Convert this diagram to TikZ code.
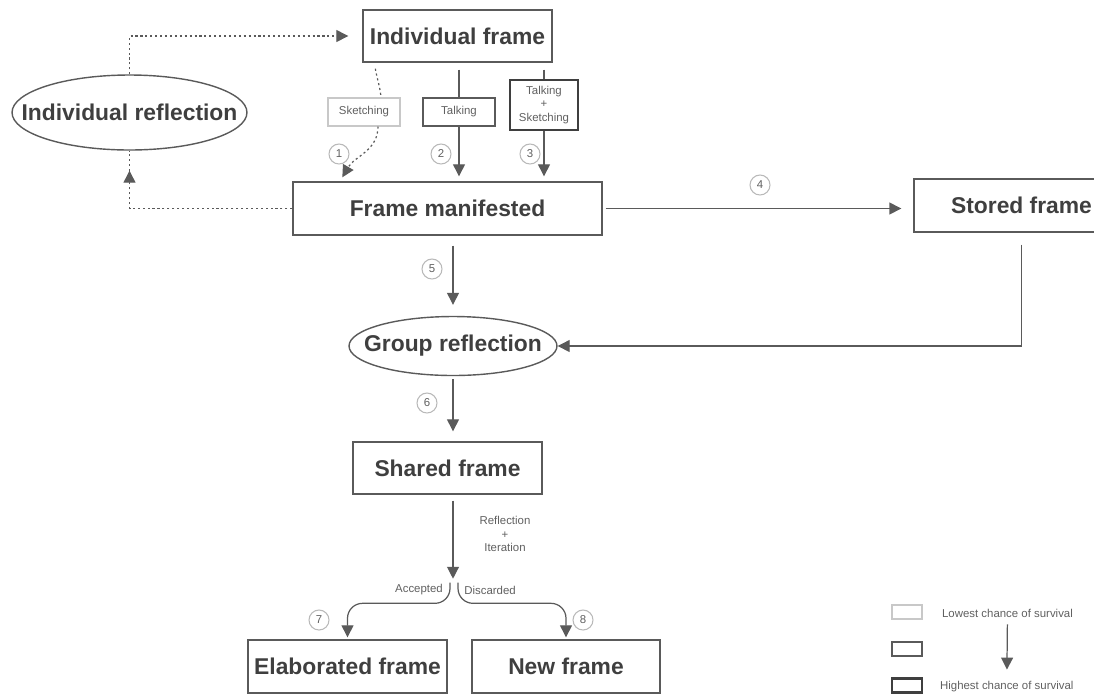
\documentclass[tikz,border=0pt]{standalone}
\usepackage{fontspec}
\setmainfont{Liberation Sans}
\usetikzlibrary{arrows.meta, shapes.geometric}

\definecolor{linegray}{HTML}{5A5A5A}
\definecolor{textgray}{HTML}{3F3F3F}
\definecolor{lightgray}{HTML}{C8C8C8}
\definecolor{labelgray}{HTML}{606060}

\begin{document}
\begin{tikzpicture}[x=0.02cm, y=-0.02cm,
    >={Triangle[length=6.8pt, width=6.8pt]},
    framebox/.style={rectangle, draw=linegray, line width=0.8pt, inner sep=0pt, text=textgray, font=\bfseries\fontsize{13}{15}\selectfont},
    reflbox/.style={ellipse, draw=linegray, line width=0.8pt, inner sep=0pt},
    bigtext/.style={text=textgray, font=\bfseries\fontsize{13}{15}\selectfont, inner sep=0pt},
    modebox/.style={rectangle, text=labelgray, font=\fontsize{6.5}{7.6}\selectfont, align=center, inner sep=0pt},
    keybox/.style={rectangle, minimum width=0.6cm, minimum height=0.28cm, inner sep=0pt},
    lbl/.style={text=labelgray, font=\fontsize{6.5}{7.6}\selectfont, align=center, inner sep=1pt},
    num/.style={circle, draw=lightgray!80!gray, line width=0.6pt, minimum size=0.4cm, inner sep=0pt, text=labelgray, font=\fontsize{6.5}{8}\selectfont},
    link/.style={->, draw=linegray, line width=0.7pt},
    dotlink/.style={draw=linegray, line width=0.7pt, dash pattern=on 1.2pt off 1.6pt}]

    \useasboundingbox (0,0) rectangle (1094,694);

    %define the frames
    \node[framebox, minimum width=3.78cm, minimum height=1.04cm] (indiv) at (457.5,36) {Individual frame};
    \node[framebox, minimum width=6.18cm, minimum height=1.06cm] (fman) at (447.5,208.5) {Frame manifested};
    \node[framebox, minimum width=4.3cm, minimum height=1.06cm] (stored) at (1021.5,205.5) {Stored frame};
    \node[framebox, minimum width=3.78cm, minimum height=1.04cm] (shared) at (447.5,468) {Shared frame};
    \node[framebox, minimum width=3.98cm, minimum height=1.06cm] (elab) at (347.5,666.5) {Elaborated frame};
    \node[framebox, minimum width=3.76cm, minimum height=1.06cm] (newf) at (566,666.5) {New frame};

    %define the reflections
    \node[reflbox, minimum width=4.7cm, minimum height=1.5cm] (irefl) at (129.5,112.5) {};
    \node[bigtext] (irefl-txt) at (irefl) {Individual reflection};
    \node[reflbox, minimum width=4.16cm, minimum height=1.18cm] (grefl) at (453,346) {};
    \node[bigtext] (grefl-txt) at (grefl) {Group reflection};

    %define the ways a frame is shown
    \node[modebox, draw=lightgray, line width=0.6pt, minimum width=1.44cm, minimum height=0.56cm] (sketch) at (364,112) {Sketching};
    \node[modebox, draw=linegray, line width=0.7pt, minimum width=1.44cm, minimum height=0.56cm] (talk) at (459,112) {Talking};
    \node[modebox, draw=textgray, line width=1.4pt, minimum width=1.36cm, minimum height=1.0cm] (both) at (544,105) {Talking\\+\\Sketching};

    %define the numbers
    \node[num] (n1) at (339,154) {1};
    \node[num] (n2) at (441,154) {2};
    \node[num] (n3) at (530,154) {3};
    \node[num] (n4) at (760,185) {4};
    \node[num] (n5) at (432,269) {5};
    \node[num] (n6) at (427,403) {6};
    \node[num] (n7) at (319,620) {7};
    \node[num] (n8) at (583,620) {8};

    %define the individual loop
    \draw[dotlink, ->, shorten >=0.28cm] (irefl.north) |- (indiv.west);
    \draw[dotlink, ->] (fman.west) -| ([yshift=-0.4cm]irefl.south);
    \draw[dotlink] ([yshift=-0.4cm]irefl.south) -- (irefl.south);

    %define the links down to the manifested frame
    \draw[dotlink] ([xshift=0.26cm,yshift=-0.12cm]indiv.south west) to[out=-80,in=95] ([xshift=0.34cm]sketch.north);
    \draw[dotlink, ->] ([xshift=0.28cm]sketch.south) to[out=-90,in=60] ([xshift=1.0cm,yshift=0.08cm]fman.north west);
    \draw[link, -, shorten <=0.14cm] (indiv.south -| talk.north) -- (talk.north);
    \draw[link, shorten >=0.1cm] (talk.south) -- (talk.south |- fman.north);
    \draw[link, -, shorten <=0.14cm] (indiv.south -| both.north) -- (both.north);
    \draw[link, shorten >=0.1cm] (both.south) -- (both.south |- fman.north);

    %define the links to group reflection
    \draw[link, shorten <=0.06cm, shorten >=0.24cm] (fman.east) -- (fman.east -| stored.west);
    \draw[link, shorten <=0.2cm, shorten >=0.22cm] (fman.south -| grefl.north) -- (grefl.north);
    \draw[link, shorten <=0.24cm] (stored.south) |- (grefl.east);
    \draw[link, shorten <=0.06cm, shorten >=0.2cm] (grefl.south) -- (grefl.south |- shared.north);

    %define the split
    \draw[link, shorten <=0.12cm] (shared.south -| grefl.south) -- ++(0,84) coordinate (split);
    \node[lbl] (reflit) at (505,534) {Reflection\\+\\Iteration};
    \draw[link, rounded corners=0.3cm, shorten >=0.04cm] ([xshift=-0.06cm,yshift=-0.08cm]split) |- ([yshift=0.72cm]elab.north) -- (elab.north);
    \draw[link, rounded corners=0.3cm, shorten >=0.04cm] ([xshift=0.1cm,yshift=-0.08cm]split) |- ([yshift=0.72cm]newf.north) -- (newf.north);
    \node[lbl] (accepted) at (419,590) {Accepted};
    \node[lbl] (discarded) at (490,590) {Discarded};

    %define the key
    \node[keybox, draw=lightgray, line width=0.6pt] (key-low) at (907,612) {};
    \node[keybox, draw=linegray, line width=0.8pt] (key-mid) at (907,649) {};
    \node[keybox, draw=textgray, line width=1.4pt] (key-high) at (907,685.5) {};
    \node[lbl, anchor=west] (low-txt) at (940,613) {Lowest chance of survival};
    \node[lbl, anchor=west] (high-txt) at (938,687) {Highest chance of survival};
    \draw[link, shorten <=0.1cm, shorten >=0.2cm] (low-txt) -- (high-txt);
\end{tikzpicture}
\end{document}
